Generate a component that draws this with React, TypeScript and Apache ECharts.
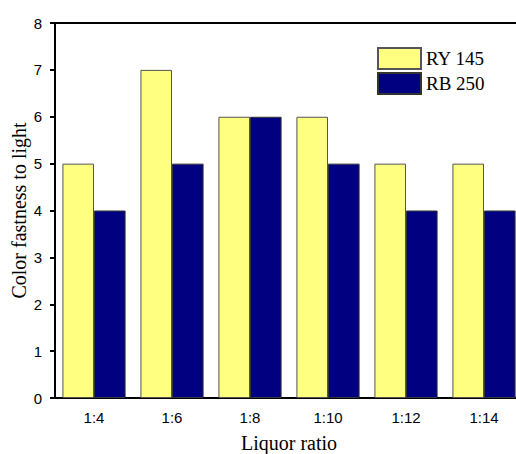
import React, { useEffect, useRef } from "react";
import * as echarts from "echarts";

const categories = ["1:4", "1:6", "1:8", "1:10", "1:12", "1:14"];
const ry145 = [5, 7, 6, 6, 5, 5];
const rb250 = [4, 5, 6, 5, 4, 4];
const yTicks = { min: 0, max: 8, interval: 1 };

export default function App() {
  const ref = useRef<HTMLDivElement>(null);
  useEffect(() => {
    if (!ref.current) return;
    const chart = echarts.init(ref.current, undefined, { renderer: "svg" });
    const serif = "Liberation Serif, Times New Roman, serif";
    const sans = "Liberation Sans, Arial, sans-serif";
    chart.setOption({
      animation: false,
      backgroundColor: "#fff",
      grid: {
        left: 55,
        top: 23,
        width: 468,
        height: 375,
        show: false,
        containLabel: false,
        outerBoundsMode: "none",
      },
      legend: {
        left: 377,
        top: 47,
        padding: 0,
        orient: "vertical",
        itemWidth: 43,
        itemHeight: 21,
        itemGap: 2,
        icon: "rect",
        textStyle: { fontFamily: serif, fontSize: 19, color: "#000" },
        data: ["RY 145", "RB 250"],
      },
      xAxis: [
        {
          type: "category",
          data: categories,
          name: "Liquor ratio",
          nameLocation: "middle",
          nameGap: 35,
          nameMoveOverlap: false,
          nameTextStyle: { fontFamily: serif, fontSize: 20, color: "#000" },
          axisLine: { lineStyle: { color: "#000", width: 2 } },
          axisTick: { alignWithLabel: true, length: 5, lineStyle: { color: "#000", width: 2 } },
          axisLabel: { fontFamily: sans, fontSize: 15, color: "#000", margin: 12 },
        },
        {
          type: "category",
          data: categories,
          position: "top",
          axisLine: { show: true, lineStyle: { color: "#000", width: 2 } },
          axisTick: { show: false },
          axisLabel: { show: false },
        },
      ],
      yAxis: {
        type: "value",
        min: yTicks.min,
        max: yTicks.max,
        interval: yTicks.interval,
        name: "Color fastness to light",
        nameLocation: "middle",
        nameGap: 26,
        nameMoveOverlap: false,
        nameTextStyle: { fontFamily: serif, fontSize: 20, color: "#000" },
        axisLine: { show: true, lineStyle: { color: "#000", width: 2 } },
        axisTick: { show: true, length: 5, lineStyle: { color: "#000", width: 2 } },
        axisLabel: { fontFamily: sans, fontSize: 15, color: "#000", margin: 13 },
        splitLine: { show: false },
      },
      series: [
        {
          name: "RY 145",
          type: "bar",
          data: ry145,
          barGap: "0%",
          barCategoryGap: "19%",
          itemStyle: { color: "#FFFF80", borderColor: "#555", borderWidth: 1 },
        },
        {
          name: "RB 250",
          type: "bar",
          data: rb250,
          barGap: "0%",
          barCategoryGap: "19%",
          itemStyle: { color: "#000080", borderColor: "#333", borderWidth: 1 },
        },
      ],
    });
    return () => chart.dispose();
  }, []);
  return (
    <div style={{ position: "fixed", left: 0, top: 0, width: 516, height: 454, overflow: "hidden", background: "#fff" }}>
      <div ref={ref} style={{ width: 516, height: 454 }} />
    </div>
  );
}
